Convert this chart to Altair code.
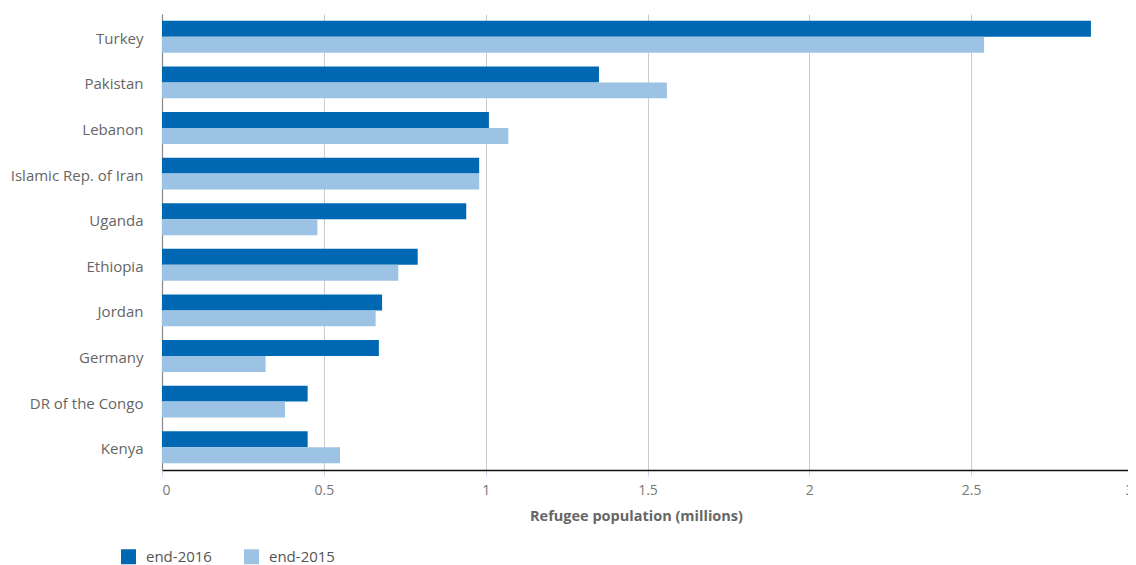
import altair as alt
import pandas as pd

countries = ["Turkey", "Pakistan", "Lebanon", "Islamic Rep. of Iran", "Uganda",
             "Ethiopia", "Jordan", "Germany", "DR of the Congo", "Kenya"]
end_2016 = [2.87, 1.35, 1.01, 0.98, 0.94, 0.79, 0.68, 0.67, 0.45, 0.45]
end_2015 = [2.54, 1.56, 1.07, 0.98, 0.48, 0.73, 0.66, 0.32, 0.38, 0.55]
series = ["end-2016", "end-2015"]
colors = ["#0068b3", "#9cc3e3"]

rows = []
for c, a, b in zip(countries, end_2016, end_2015):
    rows.append({"country": c, "series": series[0], "value": a})
    rows.append({"country": c, "series": series[1], "value": b})
df = pd.DataFrame(rows)

FONT = "Open Sans"

chart = alt.Chart(df).mark_bar().encode(
    y=alt.Y("country:N", sort=countries, title=None,
            scale=alt.Scale(paddingInner=0.3, paddingOuter=0.15),
            axis=alt.Axis(labelFont=FONT, labelFontSize=15, labelColor="#666666",
                          labelPadding=19, labelOffset=2, ticks=False,
                          domainColor="#888888", domainWidth=1.2, grid=False)),
    yOffset=alt.YOffset("series:N", sort=series, scale=alt.Scale(paddingInner=0, paddingOuter=0)),
    x=alt.X("value:Q", title="Refugee population (millions)",
            scale=alt.Scale(domain=[0, 3], nice=False),
            axis=alt.Axis(values=[0, 0.5, 1, 1.5, 2, 2.5, 3], format="~g",
                          labelFont=FONT, labelFontSize=14, labelColor="#777777",
                          labelPadding=7, tickColor="#c8d8ee", tickSize=6,
                          domainColor="#111111", domainWidth=1.5,
                          gridColor="#cccccc", gridWidth=1,
                          titleFont=FONT, titleFontSize=14.5, titleFontWeight="bold",
                          titleColor="#666666", titlePadding=12, titleX=474)),
    color=alt.Color("series:N", sort=series,
                    scale=alt.Scale(domain=series, range=colors),
                    legend=alt.Legend(title=None, orient="none", direction="horizontal",
                                      legendX=-41, legendY=535, symbolType="square",
                                      symbolSize=225, symbolStrokeWidth=0,
                                      labelFont=FONT, labelFontSize=15,
                                      labelColor="#555555", columnPadding=32,
                                      labelOffset=10)),
).properties(
    width=971, height=456,
    autosize=alt.AutoSizeParams(type="none"),
    padding={"left": 154, "top": 6, "right": -5, "bottom": 95},
).configure_view(stroke=None)

chart.save("out.html", embed_options={"renderer": "svg", "actions": False})
